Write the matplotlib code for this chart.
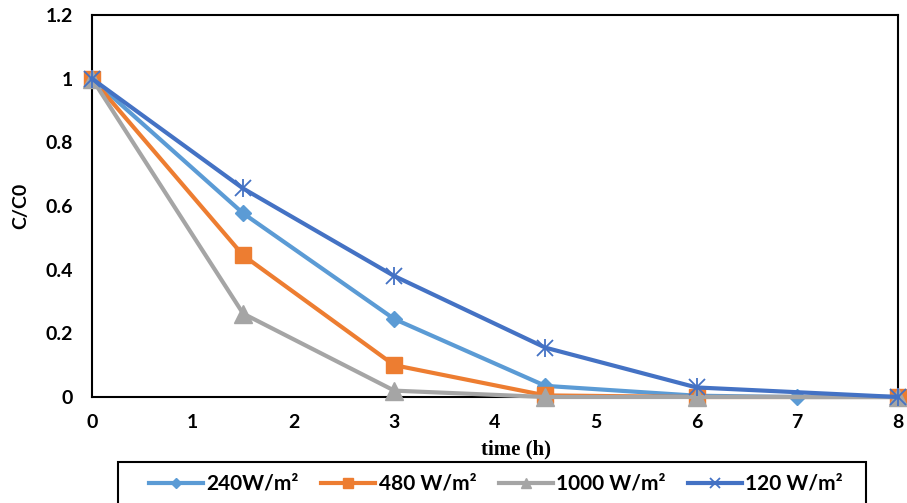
import matplotlib
matplotlib.use("Agg")
import matplotlib.pyplot as plt
from matplotlib.patches import Rectangle

# data
t_240 = [0, 1.5, 3, 4.5, 6, 7, 8]
c_240 = [1.0, 0.577, 0.245, 0.035, 0.004, 0.0, 0.0]
t_480 = [0, 1.5, 3, 4.5, 6, 8]
c_480 = [1.0, 0.445, 0.100, 0.005, 0.0, 0.0]
t_1000 = [0, 1.5, 3, 4.5, 6, 8]
c_1000 = [1.0, 0.262, 0.020, 0.0, 0.0, 0.0]
t_120 = [0, 1.5, 3, 4.5, 6, 8]
c_120 = [1.0, 0.655, 0.380, 0.155, 0.030, 0.0]

labels = ["240W/m\u00b2", "480 W/m\u00b2", "1000 W/m\u00b2", "120 W/m\u00b2"]
x_ticks = [0, 1, 2, 3, 4, 5, 6, 7, 8]
y_ticks = [0, 0.2, 0.4, 0.6, 0.8, 1.0, 1.2]
y_tick_labels = ["0", "0.2", "0.4", "0.6", "0.8", "1", "1.2"]

sans = "Lato"
W, H = 907, 503

fig = plt.figure(figsize=(W / 100, H / 100), dpi=100)
ax = fig.add_axes([92 / W, 1 - 397 / H, (898 - 92) / W, (397 - 15) / H])

lw = 3.0
ax.plot(t_240, c_240, color="#5B9BD5", lw=lw, marker="D", ms=8.5, label=labels[0], clip_on=False, zorder=3)
ax.plot(t_480, c_480, color="#ED7D31", lw=lw, marker="s", ms=12, label=labels[1], clip_on=False, zorder=4)
ax.plot(t_1000, c_1000, color="#A5A5A5", lw=lw, marker="^", ms=13, label=labels[2], clip_on=False, zorder=5)
ax.plot(t_120, c_120, color="#4472C4", lw=lw, marker="x", ms=11, mew=1.3, label=labels[3],
        clip_on=False, zorder=6)
# vertical stroke of the asterisk marker
ax.plot(t_120, c_120, color="#4472C4", lw=0, marker="|", ms=13, mew=1.3, clip_on=False, zorder=6)

ax.set_xlim(0, 8)
ax.set_ylim(0, 1.2)
ax.set_xticks(x_ticks)
ax.set_yticks(y_ticks)
ax.set_yticklabels(y_tick_labels)
ax.tick_params(length=0)
ax.tick_params(axis="y", pad=14)
ax.tick_params(axis="x", pad=12)
for lab in ax.get_xticklabels() + ax.get_yticklabels():
    lab.set_fontfamily(sans)
    lab.set_fontweight("bold")
    lab.set_fontsize(14)

for sp in ax.spines.values():
    sp.set_linewidth(1.5)
    sp.set_color("black")

ax.set_xlabel("time (h)", fontfamily="Liberation Serif", fontweight="bold", fontsize=15, va="center")
ax.xaxis.set_label_coords((516 - 92) / 806, -(449 - 397) / 382)
ax.set_ylabel("C/C0", fontfamily=sans, fontweight="bold", fontsize=14, va="center")
ax.yaxis.set_label_coords(-(92 - 21) / 806, 0.5)

# legend box runs off the bottom edge, as in the reference
fig.patches.append(Rectangle((118 / W, -20 / H), (866 - 118) / W, (H - 462 + 20) / H,
                             transform=fig.transFigure, fill=False, ec="black", lw=1.5))
leg = fig.legend(loc="center", bbox_to_anchor=(496 / W, 1 - 484 / H), ncol=4,
                 prop={"family": sans, "weight": "bold", "size": 15},
                 handlelength=2.6, handletextpad=0.15, columnspacing=1.08,
                 markerscale=0.6, frameon=False, borderpad=0, borderaxespad=0)

fig.savefig("out.png", dpi=100)
